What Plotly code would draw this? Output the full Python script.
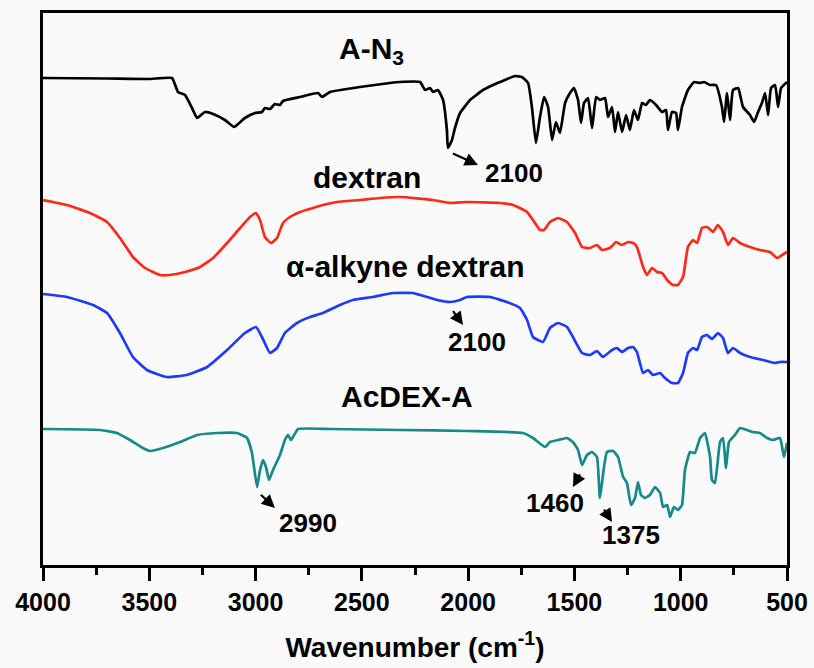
import plotly.graph_objects as go

# ---- data (wavenumber in cm^-1, signal in plot units; larger = lower on chart)
an3_x = [4000, 3700, 3500, 3393, 3365, 3332, 3299, 3275, 3257, 3238, 3200, 3144, 3101, 3050, 3003,
         2970, 2956, 2932, 2909, 2885, 2871, 2791, 2706, 2687, 2650, 2509, 2368, 2321, 2226, 2203,
         2179, 2165, 2142, 2118, 2100, 2095, 2076, 2062, 2038, 1991, 1930, 1883, 1827, 1780, 1747,
         1718, 1700, 1681, 1662, 1643, 1624, 1605, 1587, 1568, 1544, 1521, 1502, 1483, 1469, 1455,
         1436, 1417, 1398, 1380, 1356, 1342, 1323, 1309, 1295, 1276, 1257, 1239, 1220, 1201, 1182,
         1163, 1145, 1116, 1088, 1069, 1060, 1041, 1022, 1013, 994, 966, 937, 909, 890, 862, 834,
         806, 796, 782, 768, 754, 730, 707, 674, 655, 636, 618, 603, 589, 575, 556, 542, 528, 505, 500]
an3_y = [78, 78.5, 79, 78, 92, 95, 108, 118, 115, 112, 114, 120, 127, 118, 113,
         112, 108, 109, 104, 105, 101, 97, 93, 97, 92, 87, 83, 82, 82, 90,
         88, 92, 90, 100, 130, 148, 140, 128, 113, 100, 90, 85, 80, 76, 77,
         83, 107, 143, 117, 97, 107, 140, 122, 133, 103, 93, 88, 100, 123, 103,
         98, 128, 97, 100, 98, 117, 107, 132, 112, 132, 115, 130, 110, 120, 103,
         105, 100, 105, 112, 110, 130, 112, 113, 130, 107, 90, 82, 83, 82, 85, 85,
         107, 122, 93, 120, 90, 88, 107, 115, 122, 112, 103, 93, 115, 88, 85, 107, 88, 83, 82]

dex_x = [4000, 3887, 3779, 3699, 3638, 3577, 3520, 3450, 3403, 3332, 3261, 3200, 3134, 3073, 3026,
         2998, 2979, 2956, 2927, 2899, 2871, 2838, 2791, 2730, 2683, 2617, 2509, 2415, 2321, 2165,
         2085, 2005, 1850, 1789, 1723, 1695, 1662, 1643, 1615, 1577, 1535, 1497, 1464, 1427, 1394,
         1370, 1333, 1304, 1276, 1248, 1224, 1206, 1177, 1159, 1135, 1112, 1088, 1064, 1036, 1013,
         989, 966, 942, 923, 900, 876, 848, 825, 801, 778, 754, 721, 674, 627, 580, 547, 523, 500]
dex_y = [200, 205, 213, 222, 238, 257, 268, 275, 275, 272, 267, 258, 243, 228, 217,
         213, 220, 237, 243, 238, 223, 217, 212, 208, 205, 202, 200, 198, 197, 200,
         203, 202, 203, 205, 212, 220, 230, 230, 222, 218, 222, 233, 247, 248, 245,
         250, 248, 242, 245, 242, 243, 247, 267, 275, 268, 272, 273, 280, 285, 285,
         277, 247, 240, 243, 228, 227, 232, 225, 232, 245, 238, 243, 247, 250, 252, 258, 255, 252]

alk_x = [4000, 3887, 3765, 3699, 3638, 3577, 3511, 3417, 3323, 3228, 3134, 3050, 2998, 2970, 2932,
         2899, 2862, 2805, 2744, 2683, 2603, 2542, 2448, 2353, 2259, 2226, 2146, 2085, 2038, 2005,
         1897, 1817, 1756, 1723, 1695, 1648, 1615, 1577, 1535, 1507, 1464, 1427, 1394, 1366, 1323,
         1300, 1276, 1248, 1224, 1206, 1177, 1154, 1130, 1097, 1074, 1041, 1013, 989, 966, 942,
         923, 900, 876, 853, 825, 801, 778, 754, 721, 674, 613, 556, 533, 500]
alk_y = [294, 297, 305, 313, 333, 357, 370, 377, 375, 367, 350, 333, 327, 337, 353,
         348, 333, 323, 317, 313, 305, 300, 297, 293, 293, 295, 300, 302, 300, 297,
         297, 302, 308, 320, 337, 342, 328, 323, 327, 337, 353, 355, 351, 357, 350,
         348, 352, 348, 347, 352, 373, 370, 375, 373, 378, 383, 383, 373, 353, 348,
         350, 337, 335, 339, 333, 338, 353, 348, 353, 357, 360, 363, 362, 362]

acd_x = [4000, 3732, 3652, 3591, 3530, 3497, 3435, 3355, 3275, 3181, 3087, 3040, 3017, 2993, 2979,
         2965, 2951, 2937, 2918, 2885, 2862, 2847, 2833, 2819, 2800, 2650, 2321, 2005, 1742, 1695,
         1638, 1615, 1577, 1535, 1507, 1483, 1464, 1441, 1417, 1394, 1380, 1361, 1347, 1318, 1295,
         1271, 1253, 1234, 1215, 1201, 1187, 1168, 1145, 1121, 1097, 1083, 1064, 1050, 1032, 1013,
         994, 980, 956, 933, 909, 886, 862, 853, 839, 815, 801, 787, 773, 745, 721, 688, 660, 627,
         594, 566, 533, 514, 500]
acd_y = [429, 430, 433, 440, 448, 451, 448, 442, 435, 433, 433, 438, 453, 487, 470,
         460, 467, 480, 470, 455, 440, 435, 440, 435, 429, 429, 430, 431, 433, 438,
         447, 442, 440, 438, 442, 450, 465, 455, 452, 457, 498, 467, 452, 451, 457,
         477, 483, 505, 498, 482, 495, 498, 495, 487, 493, 507, 505, 517, 507, 510,
         505, 470, 452, 453, 438, 433, 457, 480, 483, 442, 438, 468, 442, 435, 428, 430, 432, 433,
         438, 440, 438, 457, 443]

series_names = ["A-N<sub>3</sub>", "dextran", "α-alkyne dextran", "AcDEX-A"]
series_colors = ["#000000", "#ff2a1a", "#1f3aff", "#168a8a"]
label_x = [2457, 2476, 2297, 2288]
label_y = [50, 177, 266, 396]

peak_text = ["2100", "2100", "2990", "1460", "1375"]
peak_text_x = [1784, 1958, 2753, 1591, 1234]
peak_text_y = [173, 342, 523, 503, 535]
arrow_head_x = [1954, 2024, 2909, 1507, 1323]
arrow_head_y = [165, 325, 508, 487, 522]
arrow_dx = [-28, -13, -17, 10, -11]
arrow_dy = [-13, -18, -16, -18, -17]

tick_vals = [4000, 3500, 3000, 2500, 2000, 1500, 1000, 500]

FONT = "Liberation Sans, Arial, sans-serif"

fig = go.Figure()
for xs, ys, nm, col in zip([an3_x, dex_x, alk_x, acd_x], [an3_y, dex_y, alk_y, acd_y],
                           series_names, series_colors):
    fig.add_trace(go.Scatter(x=xs, y=ys, mode="lines", name=nm,
                             line=dict(color=col, width=2.7, shape="spline", smoothing=0.4)))

annotations = []
for nm, lx, ly in zip(series_names, label_x, label_y):
    annotations.append(dict(x=lx, y=ly, xref="x", yref="y", text="<b>%s</b>" % nm, showarrow=False,
                            font=dict(family=FONT, size=30, color="black")))
for t, tx, ty in zip(peak_text, peak_text_x, peak_text_y):
    annotations.append(dict(x=tx, y=ty, xref="x", yref="y", text="<b>%s</b>" % t, showarrow=False,
                            font=dict(family=FONT, size=26, color="black")))
for hx, hy, dx, dy in zip(arrow_head_x, arrow_head_y, arrow_dx, arrow_dy):
    annotations.append(dict(x=hx, y=hy, xref="x", yref="y", text=" ", showarrow=True,
                            ax=dx, ay=dy, arrowhead=2, arrowsize=1.2, arrowwidth=2.2,
                            arrowcolor="black", standoff=0, startstandoff=0,
                            font=dict(size=10)))

fig.update_layout(
    width=814, height=668,
    margin=dict(l=43, r=27, t=13, b=103, autoexpand=False),
    paper_bgcolor="#fafafa", plot_bgcolor="#fafafa",
    showlegend=False,
    annotations=annotations,
    xaxis=dict(range=[4000, 500], tickvals=tick_vals, ticks="outside", ticklen=13, tickwidth=3,
               tickcolor="black", showline=True, linewidth=3, linecolor="black", mirror=True,
               showgrid=False, zeroline=False, automargin=False,
               minor=dict(dtick=250, tick0=500, ticks="outside", ticklen=7, tickwidth=3, tickcolor="black"),
               tickfont=dict(family=FONT, size=25, color="black", weight="bold"),
               title=dict(text="<b>Wavenumber (cm<sup>-1</sup>)</b>", standoff=23,
                          font=dict(family=FONT, size=28, color="black"))),
    yaxis=dict(range=[565, 13], showticklabels=False, ticks="", showline=True, linewidth=3,
               linecolor="black", mirror=True, showgrid=False, zeroline=False, automargin=False),
)

fig.write_html("out.html", config={"displayModeBar": False},
               post_script="document.body.style.margin='0';document.body.style.background='#fafafa';")
